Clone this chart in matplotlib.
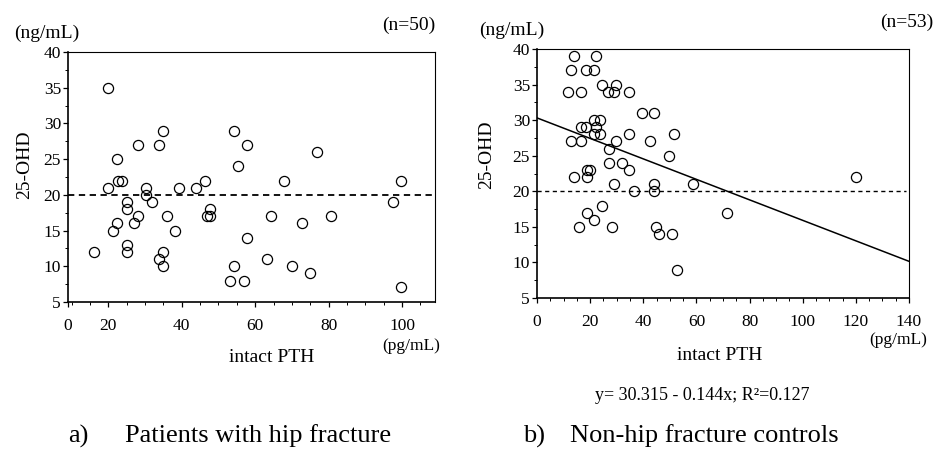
import numpy as np
import matplotlib
matplotlib.use("Agg")
import matplotlib.pyplot as plt
from matplotlib.ticker import MultipleLocator

plt.rcParams['font.family'] = ['Liberation Serif', 'DejaVu Serif']

# a) patients with hip fracture: intact PTH (pg/mL) vs 25-OHD (ng/mL)
pth_a = [16, 20, 20, 21.2, 22.3, 22.3, 22.7, 23.8, 25, 25, 25, 25, 27.1, 28.2, 28.2,
         30.2, 30.2, 31.9, 33.9, 35, 33.9, 35, 35, 36.1, 38.1, 39.2, 44, 46.2, 47, 47.7,
         47.7, 54.1, 57.8, 55.2, 54.1, 53.1, 56.9, 57.8, 63.2, 64.2, 67.9, 69.9, 72.7,
         74.9, 76.9, 80.7, 97.6, 99.8, 99.8]
ohd_a = [12, 35, 21, 15, 25, 16, 22, 22, 19, 18, 13, 12, 16, 27, 17,
         21, 20, 19, 27, 29, 11, 12, 10, 17, 15, 21, 21, 22, 17, 18,
         17, 29, 27, 24, 10, 8, 8, 14, 11, 17, 22, 10, 16,
         9, 26, 17, 19, 22, 7.1]

# b) non-hip fracture controls
pth_b = [11.7, 12.8, 13.8, 12.8, 13.8, 15.9, 16.7, 16.7, 16.7, 18.4, 18.4, 18.8, 19.8,
         18.8, 18.8, 21.6, 22.3, 21.6, 22.3, 21.6, 23.6, 23.6, 21.6, 24.5, 24.6, 26.9,
         27.1, 27.1, 28.9, 29.9, 29.9, 29.1, 28.1, 31.9, 34.6, 34.6, 34.6, 36.6, 39.6,
         43.9, 42.4, 44, 44, 44.9, 45.9, 49.8, 51.7, 50.7, 52.7, 58.7, 71.6, 120]
ohd_b = [34, 37, 39, 27, 22, 15, 34, 29, 27, 37, 29, 23, 23,
         22, 17, 37, 39, 30, 29, 28, 30, 28, 16, 35, 18, 34,
         26, 24, 34, 35, 27, 21, 15, 24, 34, 28, 23, 20, 31,
         31, 27, 21, 20, 15, 14, 25, 28, 14, 9, 21, 17, 22]

fit_a, fit_b = 30.315, -0.144
cutoff = 20

fig = plt.figure(figsize=(9.43, 4.57), dpi=100)
W, H = 943, 457


def px_axes(l, t, r, b):
    return fig.add_axes([l / W, 1 - b / H, (r - l) / W, (b - t) / H])


def style(ax):
    for s in ['left', 'bottom']:
        ax.spines[s].set_linewidth(1.2)
    for s in ['top', 'right']:
        ax.spines[s].set_linewidth(0.8)
    ax.set_ylim(5, 40)
    ax.yaxis.set_major_locator(MultipleLocator(5))
    ax.yaxis.set_minor_locator(MultipleLocator(2.5))
    ax.xaxis.set_minor_locator(MultipleLocator(5))
    ax.tick_params(axis='both', which='major', direction='out', length=3.5,
                   width=0.9, labelsize=12.5)
    ax.tick_params(axis='both', which='minor', direction='out', length=2, width=0.7)
    ax.tick_params(axis='x', pad=8)
    ax.tick_params(axis='y', pad=1.5)


mk = dict(marker='o', ms=7.3, mfc='none', mec='black', mew=0.9, ls='none')

# panel a
ax1 = px_axes(68, 52, 435, 302)
ax1.plot(pth_a, ohd_a, **mk)
ax1.set_xlim(9, 109)
ax1.set_xticks([9, 20, 40, 60, 80, 100], ['0', '20', '40', '60', '80', '100'])
ax1.axhline(cutoff, color='black', lw=1.3, ls=(0, (3.5, 2.5)))
style(ax1)

# panel b
ax2 = px_axes(537, 49, 909, 298)
ax2.plot(pth_b, ohd_b, **mk)
ax2.set_xlim(0, 140)
ax2.set_xticks(np.arange(0, 141, 20))
xs = np.array([0, 140])
ax2.plot(xs, fit_a + fit_b * xs, color='black', lw=1.1)
ax2.plot([0, 139], [cutoff, cutoff], color='black', lw=1.0, ls=(0, (3, 2.5)))
style(ax2)


def txt(x, y, s, size=14, ha='center', **kw):
    fig.text(x / W, 1 - y / H, s, ha=ha, va='center', fontsize=size, **kw)


txt(47, 33, '(ng/mL)')
txt(435, 25, '(n=50)', ha='right')
txt(512, 30, '(ng/mL)')
txt(933, 22, '(n=53)', ha='right')
txt(25, 165, '25-OHD', rotation=90)
txt(487, 155, '25-OHD', rotation=90)
txt(411, 346, '(pg/mL)', size=12.5)
txt(898, 340, '(pg/mL)', size=12.5)
txt(272, 358, 'intact PTH')
txt(720, 355, 'intact PTH')
txt(702, 396, 'y= 30.315 - 0.144x; R²=0.127', size=13)
txt(68, 436, 'a)', size=19, ha='left')
txt(125, 436, 'Patients with hip fracture', size=19, ha='left')
txt(523, 436, 'b)', size=19, ha='left')
txt(570, 436, 'Non-hip fracture controls', size=19, ha='left')

fig.savefig('out.png', dpi=100)
